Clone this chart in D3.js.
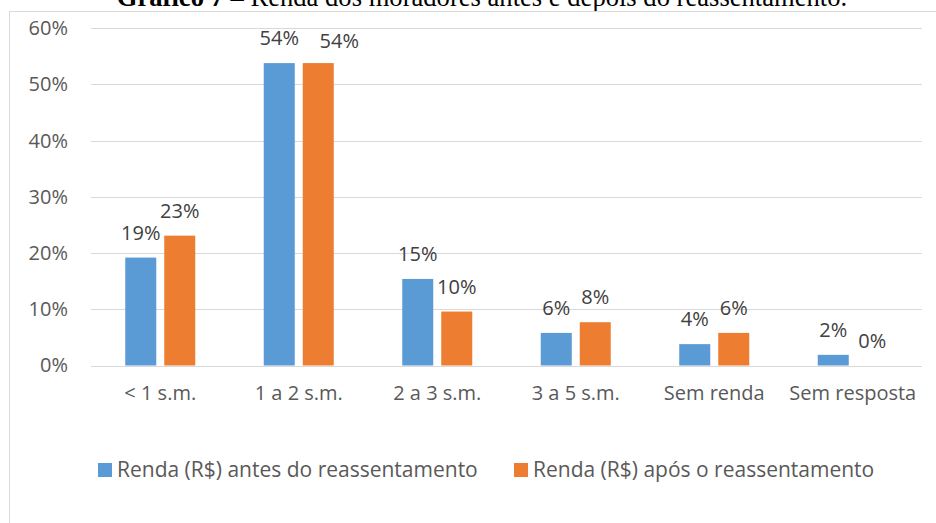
<!DOCTYPE html>
<html>
<head>
<meta charset="utf-8">
<script src="https://cdn.jsdelivr.net/npm/d3@7"></script>
<style>
  html, body { margin: 0; padding: 0; background: #fff; }
  svg { display: block; }
</style>
</head>
<body>
<svg id="chart" width="936" height="523"></svg>
<script>
// ---- data ----
const categories = ["< 1 s.m.", "1 a 2 s.m.", "2 a 3 s.m.", "3 a 5 s.m.", "Sem renda", "Sem resposta"];
const seriesNames = ["Renda (R$) antes do reassentamento", "Renda (R$) após o reassentamento"];
const antes = [19.2, 53.8, 15.4, 5.8, 3.8, 1.9];
const apos  = [23.1, 53.8, 9.6, 7.7, 5.8, 0];
const yTicks = [0, 10, 20, 30, 40, 50, 60];
const titleBold = "Gráfico 7 –";
const titleRest = " Renda dos moradores antes e depois do reassentamento.";

const colors = ["#5b9bd5", "#ed7d31"];
const textColor = "#595959";
const font = "'Open Sans', 'Noto Sans', sans-serif";

const svg = d3.select("#chart");

// title (clipped at the top, as in the reference)
svg.append("text")
  .attr("x", 482).attr("y", 6)
  .attr("text-anchor", "middle")
  .attr("font-family", "'Liberation Serif', 'Times New Roman', serif")
  .attr("font-size", 26.6)
  .attr("fill", "#000")
  .call(t => {
    t.append("tspan").attr("font-weight", "bold").text(titleBold);
    t.append("tspan").text(titleRest);
  });

// chart frame
svg.append("rect")
  .attr("x", 9.5).attr("y", 11.5)
  .attr("width", 1000).attr("height", 600)
  .attr("fill", "#fff")
  .attr("stroke", "#d9d9d9").attr("stroke-width", 1);

// scales
const x0 = d3.scaleBand().domain(categories).range([91, 922]).padding(0);
const x1 = d3.scaleBand().domain(seriesNames).range([0, x0.bandwidth()])
  .paddingInner(0.205).paddingOuter(0.878);
const y = d3.scaleLinear().domain([0, 60]).range([365.5, 28.25]);

// gridlines
svg.append("g").selectAll("line").data(yTicks).join("line")
  .attr("x1", 91).attr("x2", 922)
  .attr("y1", d => Math.round(y(d)) + 0.5).attr("y2", d => Math.round(y(d)) + 0.5)
  .attr("stroke", "#d9d9d9").attr("stroke-width", 1);

// y axis labels
const yAxis = d3.axisLeft(y).tickValues(yTicks).tickFormat(d => d + "%").tickSize(0).tickPadding(0);
svg.append("g")
  .attr("transform", "translate(68,0)")
  .call(yAxis)
  .call(g => g.select(".domain").remove())
  .call(g => g.selectAll("text")
    .attr("font-family", font).attr("font-size", 20).attr("fill", textColor));

// x axis labels
const xAxis = d3.axisBottom(x0).tickSize(0).tickPadding(0);
svg.append("g")
  .attr("transform", "translate(0,386)")
  .call(xAxis)
  .call(g => g.select(".domain").remove())
  .call(g => g.selectAll("text")
    .attr("font-family", font).attr("font-size", 20).attr("fill", textColor)
    .attr("dy", "0.71em"));

// bars
const seriesData = [antes, apos];
const rows = [];
seriesData.forEach((vals, si) => vals.forEach((v, ci) =>
  rows.push({ s: seriesNames[si], si, cat: categories[ci], v })));

svg.append("g").selectAll("rect").data(rows.filter(d => d.v > 0)).join("rect")
  .attr("x", d => x0(d.cat) + x1(d.s))
  .attr("y", d => y(d.v))
  .attr("width", x1.bandwidth())
  .attr("height", d => y(0) - y(d.v))
  .attr("fill", d => colors[d.si]);

// data labels
svg.append("g").selectAll("text").data(rows).join("text")
  .attr("x", d => {
    let cx = x0(d.cat) + x1(d.s) + x1.bandwidth() / 2;
    // nudge for overlapping label (after, 1 a 2 s.m.)
    if (d.si === 1 && d.cat === "1 a 2 s.m.") cx += 21;
    return cx;
  })
  .attr("y", d => {
    let yy = y(d.v) - 18;
    if (d.si === 1 && d.cat === "1 a 2 s.m.") yy += 3;
    return yy;
  })
  .attr("text-anchor", "middle")
  .attr("font-family", font).attr("font-size", 20).attr("fill", "#404040")
  .text(d => Math.round(d.v) + "%");

// legend
const legend = svg.append("g");
const legendX = [98, 514];
seriesNames.forEach((name, i) => {
  legend.append("rect")
    .attr("x", legendX[i]).attr("y", 463)
    .attr("width", 14).attr("height", 14)
    .attr("fill", colors[i]);
  legend.append("text")
    .attr("x", legendX[i] + 19).attr("y", 477)
    .attr("font-family", font).attr("font-size", 21).attr("fill", textColor)
    .text(name);
});
</script>
</body>
</html>
